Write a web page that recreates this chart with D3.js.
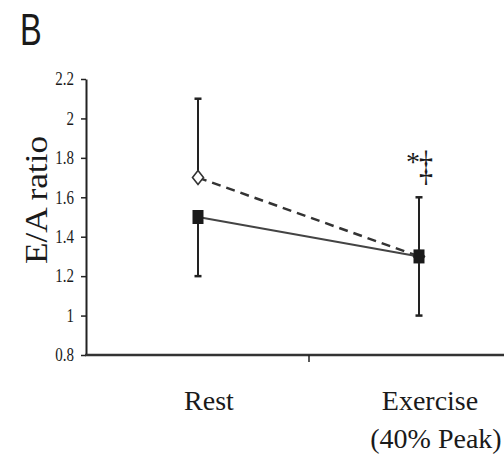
<!DOCTYPE html>
<html>
<head>
<meta charset="utf-8">
<script src="https://cdn.jsdelivr.net/npm/d3@7"></script>
<style>
  html, body { margin: 0; padding: 0; background: #fff; }
  svg { display: block; }
  text { fill: #1a1a1a; }
</style>
</head>
<body>
<svg id="chart" width="504" height="455"></svg>
<script>
// Conditions on the x axis
const categories = ["Rest", "Exercise"];
const categoryLines = [["Rest"], ["Exercise", "(40% Peak)"]];

// Open diamonds, dashed line (error bars drawn upward)
const diamondMean = [1.7, 1.3];
const diamondErr = [0.4, 0.3];

// Filled squares, solid line (error bars drawn downward)
const squareMean = [1.5, 1.3];
const squareErr = [0.3, 0.3];

// Y axis ticks
const yTicks = [0.8, 1, 1.2, 1.4, 1.6, 1.8, 2, 2.2];
const yTickLabels = ["0.8", "1", "1.2", "1.4", "1.6", "1.8", "2", "2.2"];

const svg = d3.select("#chart");
const ink = "#222";

const y = d3.scaleLinear().domain([0.8, 2.2]).range([355, 79]);
const x = d3.scalePoint().domain(categories).range([87.5, 529.5]).padding(0.5);
// linear helper for the divider tick between the two conditions
const xDiv = d3.scaleLinear().domain([0, 2]).range([87.5, 529.5]);

// Panel letter
svg.append("text")
  .attr("transform", "translate(20,45) scale(0.74,1)")
  .attr("font-family", "Liberation Sans, Arial, sans-serif")
  .attr("font-size", 44)
  .text("B");

// Y axis
const yAxis = svg.append("g")
  .attr("transform", "translate(86,0)")
  .call(d3.axisLeft(y).tickValues(yTicks)
    .tickFormat((d, i) => yTickLabels[i])
    .tickSize(5).tickSizeOuter(0).tickPadding(7));
yAxis.select(".domain").attr("stroke", ink).attr("stroke-width", 2);
yAxis.selectAll(".tick line").attr("stroke", ink).attr("stroke-width", 1.5);
yAxis.selectAll(".tick text")
  .attr("font-family", "Liberation Serif, Times New Roman, serif")
  .attr("font-size", 15)
  .attr("transform", "scale(1,1.2)")
  .attr("fill", "#1a1a1a");

// X axis
const xAxis = svg.append("g")
  .attr("transform", "translate(0,355)")
  .call(d3.axisBottom(xDiv).tickValues([1]).tickFormat("")
    .tickSize(7).tickSizeOuter(0));
xAxis.select(".domain").attr("stroke", "#333").attr("stroke-width", 2.5)
  .attr("d", "M85,0H" + xDiv.range()[1]);
xAxis.selectAll(".tick line").attr("stroke", ink).attr("stroke-width", 1.5);

// Y axis title
svg.append("text")
  .attr("transform", "translate(47,200) rotate(-90) scale(1.1,1)")
  .attr("text-anchor", "middle")
  .attr("font-family", "Liberation Serif, Times New Roman, serif")
  .attr("font-size", 32)
  .text("E/A ratio");

// Category labels
categories.forEach((c, i) => {
  const t = svg.append("text")
    .attr("text-anchor", "middle")
    .attr("font-family", "Liberation Serif, Times New Roman, serif")
    .attr("font-size", 28);
  categoryLines[i].forEach((line, j) => {
    t.append("tspan")
      .attr("x", x(c) + 11 + j * 6)
      .attr("y", 410 + j * 38)
      .text(line);
  });
});

// Error bars
function errorBars(mean, err, dir) {
  const g = svg.append("g").attr("stroke", ink).attr("stroke-width", 2);
  categories.forEach((c, i) => {
    const cx = x(c);
    const end = mean[i] + dir * err[i];
    g.append("line").attr("x1", cx).attr("x2", cx)
      .attr("y1", y(mean[i])).attr("y2", y(end));
    g.append("line").attr("x1", cx - 3.5).attr("x2", cx + 3.5)
      .attr("y1", y(end)).attr("y2", y(end)).attr("stroke-width", 2.5);
  });
}
errorBars(diamondMean, diamondErr, 1);
errorBars(squareMean, squareErr, -1);

// Connecting lines
const line = d3.line().x((d, i) => x(categories[i])).y(d => y(d));
svg.append("path").datum(diamondMean)
  .attr("d", line).attr("fill", "none")
  .attr("stroke", "#333").attr("stroke-width", 2.5)
  .attr("stroke-dasharray", "9,6");
svg.append("path").datum(squareMean)
  .attr("d", line).attr("fill", "none")
  .attr("stroke", "#444").attr("stroke-width", 2);

// Diamond markers
svg.append("g").selectAll("path").data(diamondMean).join("path")
  .attr("transform", (d, i) => `translate(${x(categories[i])},${y(d)})`)
  .attr("d", "M0,-7L5.5,0L0,7L-5.5,0Z")
  .attr("fill", "#fff").attr("stroke", "#333").attr("stroke-width", 1.6);

// Square markers
svg.append("g").selectAll("rect").data(squareMean).join("rect")
  .attr("x", (d, i) => x(categories[i]) - 5.5)
  .attr("y", d => y(d) - 7)
  .attr("width", 11).attr("height", 14)
  .attr("fill", "#1a1a1a");

// Significance markers above exercise
svg.append("text")
  .attr("x", 413).attr("y", 171)
  .attr("text-anchor", "middle")
  .attr("font-family", "Liberation Serif, Times New Roman, serif")
  .attr("font-size", 28)
  .text("*");
svg.append("text")
  .attr("transform", "translate(426,180) scale(1,1.5)")
  .attr("text-anchor", "middle")
  .attr("font-family", "Liberation Serif, Times New Roman, serif")
  .attr("font-size", 28)
  .text("‡");
</script>
</body>
</html>
